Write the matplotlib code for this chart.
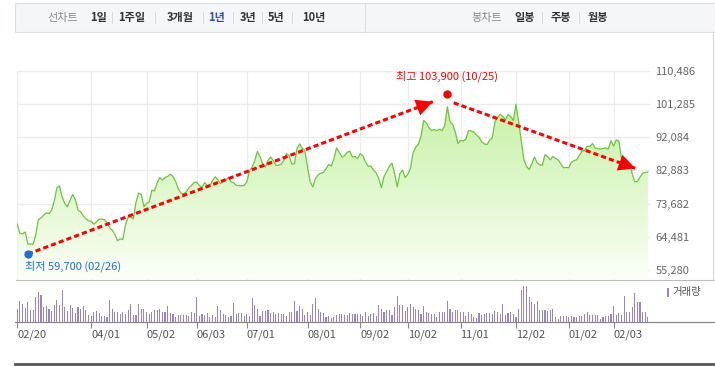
"""
1년 선차트 (종가 + 거래량) 재현
"""
import numpy as np
import matplotlib
matplotlib.use('Agg')
import matplotlib.pyplot as plt
from matplotlib.colors import LinearSegmentedColormap
from matplotlib.lines import Line2D
from matplotlib.patches import Rectangle

plt.rcParams['font.family'] = ['Noto Sans CJK KR', 'DejaVu Sans']

# ── Data ─────────────────────────────────────────────────────────
price = [
    68000, 65400, 65300, 65800, 62500, 62500, 62400, 65000, 69300, 69700,
    70500, 71100, 70900, 71800, 74400, 78000, 78600, 75500, 73700, 72800,
    74600, 76200, 74800, 71900, 71400, 70300, 69500, 68900, 68800, 68000,
    68600, 69400, 69400, 69200, 68400, 67000, 66300, 65100, 63400, 63900,
    63700, 67700, 70000, 70000, 69400, 74100, 76600, 76200, 72800, 73700,
    74100, 77400, 77200, 79400, 80900, 80200, 80900, 81200, 81800, 81200,
    79800, 77800, 76600, 76400, 76900, 78000, 78700, 79500, 79600, 78700,
    78100, 79500, 78700, 78600, 80100, 81100, 80300, 79200, 79700, 80100,
    80900, 79700, 79500, 78700, 78700, 78600, 78700, 79700, 82700, 83800,
    85600, 88100, 86700, 84700, 83800, 85600, 86600, 85600, 84300, 84300,
    84600, 85600, 87500, 87000, 84700, 84700, 88900, 90200, 89000, 88400,
    83800, 79700, 78300, 80600, 81600, 82100, 82300, 83300, 84500, 84100,
    86100, 89100, 87900, 86600, 86900, 87900, 88200, 86600, 86700, 86200,
    87500, 86900, 85200, 84000, 84100, 82900, 82200, 80600, 78100, 81200,
    82500, 84000, 84900, 82000, 78300, 82000, 82900, 80900, 81800, 83400,
    87700, 89300, 90100, 92300, 96700, 96100, 94700, 93900, 94200, 93900,
    94300, 93900, 95300, 100500, 96400, 95600, 93500, 90300, 91200, 91000,
    91500, 93900, 93800, 93500, 92700, 92100, 90800, 90200, 90000, 91200,
    91900, 96200, 97600, 98400, 97800, 96900, 98300, 97800, 96700, 101200,
    96500, 91200, 85800, 84000, 83100, 84700, 86600, 85000, 84400, 84300,
    87200, 86700, 85800, 86700, 86200, 85800, 84700, 83600, 83700, 83600,
    85100, 85600, 85800, 87000, 88100, 88400, 89600, 89500, 90300, 89100,
    88900, 88800, 88900, 89100, 88800, 91100, 89600, 91300, 91000, 86200,
    86000, 85600, 84700, 82100, 79700, 79800, 81000, 82100, 82300, 82400,
]

volume = [
    40, 64, 55, 44, 61, 37, 37, 75, 90, 82,
    46, 49, 40, 34, 52, 67, 52, 96, 47, 34,
    52, 43, 27, 46, 40, 49, 37, 22, 20, 31,
    34, 27, 19, 19, 17, 67, 40, 31, 31, 24,
    31, 24, 37, 54, 22, 22, 54, 40, 40, 31,
    24, 31, 37, 37, 40, 31, 31, 49, 28, 24,
    17, 22, 22, 22, 22, 19, 31, 28, 76, 19,
    24, 22, 28, 17, 22, 17, 49, 37, 24, 22,
    17, 19, 58, 24, 28, 28, 19, 24, 19, 73,
    52, 40, 19, 34, 34, 37, 28, 31, 24, 28,
    24, 24, 19, 31, 31, 64, 34, 49, 40, 22,
    31, 22, 55, 73, 40, 31, 28, 17, 19, 12,
    17, 22, 24, 24, 22, 22, 28, 24, 24, 24,
    24, 19, 31, 19, 24, 28, 19, 52, 40, 31,
    37, 37, 22, 46, 79, 52, 52, 34, 46, 55,
    46, 40, 37, 25, 49, 31, 28, 25, 25, 16,
    31, 31, 31, 64, 40, 31, 37, 37, 31, 31,
    19, 31, 25, 16, 13, 28, 22, 25, 28, 28,
    25, 34, 31, 25, 54, 22, 28, 31, 25, 16,
    40, 97, 109, 109, 76, 61, 55, 64, 37, 37,
    37, 34, 37, 40, 16, 10, 19, 19, 19, 16,
    19, 16, 16, 19, 19, 25, 30, 22, 22, 22,
    22, 10, 16, 19, 19, 25, 49, 22, 28, 22,
    79, 31, 31, 46, 88, 61, 61, 31, 31, 16,
]

tick_idx    = [0, 28, 49, 68, 87, 110, 130, 148, 168, 189, 209, 226]
tick_labels = ['02/20', '04/01', '05/02', '06/03', '07/01', '08/01',
               '09/02', '10/02', '11/01', '12/02', '01/02', '02/03']
y_ticks     = [55280, 64481, 73682, 82883, 92084, 101285, 110486]

LOW_IDX,  LOW_VAL,  LOW_DATE  = 4,   59700,  '02/26'
HIGH_IDX, HIGH_VAL, HIGH_DATE = 163, 103900, '10/25'

# trend arrows (data coords)
ARROW_UP   = ((LOW_IDX, LOW_VAL), (157.5, 101900))
ARROW_DOWN = ((165.4, 101600), (234.2, 83450))

# ── Design tokens ────────────────────────────────────────────────
W, H      = 715, 366
LINE      = '#6cc63c'
GRID      = '#ececec'
LABEL     = '#666666'
VOL       = '#9a82cc'
RED       = '#ff0000'
BLUE      = '#1f6fd6'
BAR_BG    = '#f5f6f8'
BAR_EDGE  = '#dcdfe3'

def box(l, t, r, b):
    return [l / W, 1 - b / H, (r - l) / W, (b - t) / H]

def fline(x0, y0, x1, y1, **kw):
    fig.add_artist(Line2D([x0 / W, x1 / W], [1 - y0 / H, 1 - y1 / H],
                          transform=fig.transFigure, **kw))

def ftext(x, y, s, **kw):
    fig.text(x / W, 1 - y / H, s, va='center', **kw)

fig = plt.figure(figsize=(W / 100, H / 100), dpi=100, facecolor='white')

# ── Tab bar ──────────────────────────────────────────────────────
fig.add_artist(Rectangle((15 / W, 1 - 32 / H), 700 / W, 29 / H,
                         transform=fig.transFigure, facecolor=BAR_BG,
                         edgecolor=BAR_EDGE, lw=0.8))
fline(365, 3, 365, 32, color=BAR_EDGE, lw=0.8)

ftext(63, 18, '선차트', ha='center', fontsize=8, color='#8a8a8a')
tabs = [('1일', 98.5), ('1주일', 131.5), ('3개월', 180), ('1년', 217),
        ('3년', 248.5), ('5년', 276), ('10년', 314)]
for s, x in tabs:
    ftext(x, 18, s, ha='center', fontsize=8, fontweight='bold',
          color='#2a4fc8' if s == '1년' else '#333333')
for x in [112.6, 155, 203, 233.5, 262, 292]:
    ftext(x, 18, '|', ha='center', fontsize=7, color='#cccccc')

ftext(486.5, 18, '봉차트', ha='center', fontsize=8, color='#8a8a8a')
for s, x in [('일봉', 525), ('주봉', 561), ('월봉', 598)]:
    ftext(x, 18, s, ha='center', fontsize=8, fontweight='bold', color='#333333')
for x in [542.6, 579]:
    ftext(x, 18, '|', ha='center', fontsize=7, color='#cccccc')

# ── Price panel ──────────────────────────────────────────────────
x = np.arange(len(price))
ax = fig.add_axes(box(16.5, 70.7, 650, 279.5))
ax.set_xlim(-0.3, 239.8)
ax.set_ylim(52650, 110486)

for t in tick_idx:
    ax.axvline(t, color=GRID, lw=0.9, zorder=0)
for v in y_ticks:
    ax.axhline(v, color=GRID, lw=0.9, zorder=0)

poly = ax.fill_between(x, price, 52650, color='none', lw=0)
cmap = LinearSegmentedColormap.from_list('g', ['#fbfff7', '#bdee96'])
grad = ax.imshow(np.linspace(0, 1, 256).reshape(-1, 1), cmap=cmap,
                 aspect='auto', origin='lower',
                 extent=[-0.3, 239.8, 52650, 110486], zorder=1)
grad.set_clip_path(poly.get_paths()[0], transform=ax.transData)
ax.plot(x, price, color=LINE, lw=0.9, zorder=2)

ax.yaxis.tick_right()
ax.set_yticks(y_ticks)
ax.set_yticklabels([f'{v:,}' for v in y_ticks], fontsize=8, color=LABEL)
ax.tick_params(axis='y', length=0, pad=4)
ax.set_xticks([])
for sp in ax.spines.values():
    sp.set_visible(False)

# trend arrows
for (x0, y0), (x1, y1) in [ARROW_UP, ARROW_DOWN]:
    ax.plot([x0, x1], [y0, y1], color=RED, lw=2.2, ls=(0, (1.7, 1.0)), zorder=4)
    ax.annotate('', xy=(x1, y1), xytext=(x0, y0), zorder=5,
                arrowprops=dict(arrowstyle='-|>,head_length=1.2,head_width=0.6',
                                color=RED, lw=0, shrinkA=0, shrinkB=0,
                                mutation_scale=10))

# high / low markers
ax.plot(HIGH_IDX, HIGH_VAL, 'o', color=RED, ms=5, zorder=6)
ax.plot(LOW_IDX, LOW_VAL, 'o', color=BLUE, ms=5, zorder=6, clip_on=False)
ax.annotate(f'최고 {HIGH_VAL:,} ({HIGH_DATE})', (HIGH_IDX, HIGH_VAL),
            xytext=(0, 9), textcoords='offset points', ha='center', va='bottom',
            fontsize=8, color=RED)
ax.annotate(f'최저 {LOW_VAL:,} ({LOW_DATE})', (LOW_IDX, LOW_VAL),
            xytext=(-2, -5), textcoords='offset points', ha='left', va='top',
            fontsize=8, color=BLUE)

# ── Volume panel ─────────────────────────────────────────────────
axv = fig.add_axes(box(16.5, 280, 650, 322.3))
axv.set_xlim(-0.3, 239.8)
axv.set_ylim(0, 127)
axv.bar(np.arange(len(volume)), volume, width=0.42, color=VOL, lw=0)
axv.set_yticks([])
axv.set_xticks(tick_idx)
axv.set_xticklabels(tick_labels, fontsize=8, color='#555555', ha='left')
axv.tick_params(axis='x', length=4, width=0.8, color='#888888', pad=1.5)
for sp in axv.spines.values():
    sp.set_visible(False)

# frame lines
fline(16, 280, 715, 280, color='#bbbbbb', lw=0.8)
fline(15, 322.3, 715, 322.3, color='#888888', lw=0.9)
fline(713, 32, 713, 280, color='#d8d8d8', lw=0.8)
fline(15, 363.5, 715, 363.5, color='#555555', lw=2)

# volume legend
fig.add_artist(Rectangle((667 / W, 1 - 297 / H), 2 / W, 9 / H,
                         transform=fig.transFigure, facecolor=VOL, lw=0))
ftext(672, 292.5, '거래량', ha='left', fontsize=7.5, color='#555555')

fig.savefig('out.png', dpi=100, facecolor='white')
